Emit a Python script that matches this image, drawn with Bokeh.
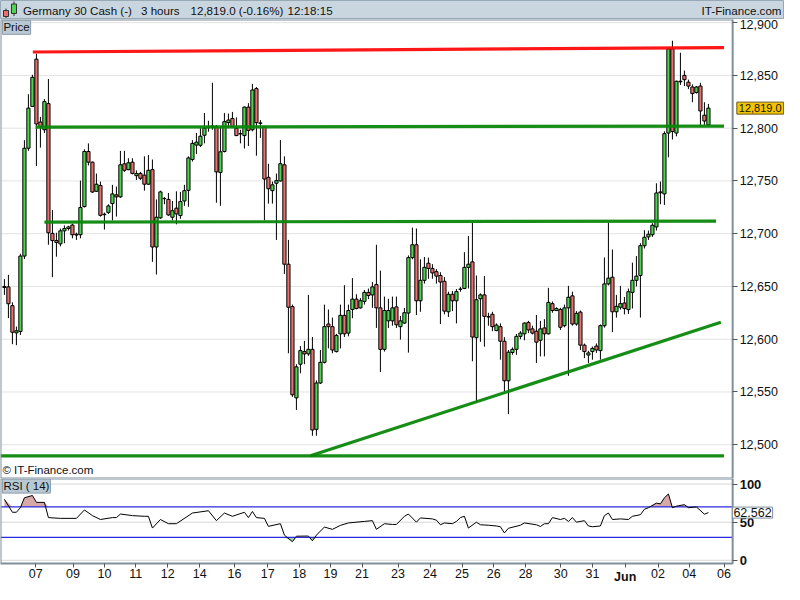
import numpy as np
from bokeh.plotting import figure
from bokeh.layouts import column
from bokeh.models import (Range1d, FixedTicker, NumeralTickFormatter, Label,
                          ColumnDataSource, LinearAxis)
from bokeh.embed import file_html
from bokeh.resources import INLINE

FONT = "Liberation Sans"

# ---------------- data ----------------
title_parts = ["Germany 30 Cash (-)", "3 hours", "12,819.0 (-0.16%)", "12:18:15"]
brand = "IT-Finance.com"
last_price = 12819.0
last_price_text = "12,819.0"
last_rsi = 62.562
last_rsi_text = "62.562"

opens = [12650, 12649.6, 12631.8, 12606, 12607.3, 12678.8, 12781, 12820.6, 12865.4, 12805.8,
         12798.5, 12823.3, 12700.3, 12693.5, 12690.4, 12702.7, 12704.9, 12708.2, 12699.5, 12699,
         12725.7, 12777.9, 12767.8, 12740.2, 12745.7, 12718, 12720.2, 12728.5, 12736.8, 12734.9,
         12766.2, 12760.7, 12767.8, 12755, 12757.1, 12755.5, 12746.9, 12760.7, 12687.4, 12715,
         12733.4, 12732.5, 12715.6, 12724.2, 12717.2, 12731, 12741.1, 12770.3, 12784, 12783.8,
         12793.3, 12800.5, 12802, 12801.6, 12758, 12777.9, 12805.3, 12809.2, 12800, 12794.8,
         12793, 12820, 12798.5, 12837.5, 12805, 12801.6, 12753.4, 12740.8, 12747.8, 12750,
         12765.3, 12671.1, 12630.9, 12544.4, 12576.3, 12588.3, 12586.1, 12590.4, 12514.6, 12558.5,
         12578.1, 12614.4, 12611.9, 12588.3, 12605.1, 12622.6, 12605.8, 12628.2, 12638, 12629.7,
         12635.8, 12644.4, 12642, 12651.8, 12629.7, 12590.4, 12617.4, 12617.4, 12630.6, 12611.9,
         12615.3, 12624.8, 12677.3, 12689.5, 12636.4, 12655.8, 12672, 12667.1, 12664, 12660.4,
         12654.9, 12626, 12642.6, 12636.4, 12647.5, 12648.1, 12668.1, 12673.3, 12601.5, 12638.3,
         12642, 12621.5, 12623.6, 12608.2, 12611.9, 12598.1, 12560.6, 12587.4, 12590.4, 12602.7,
         12605.1, 12615.9, 12609.8, 12607.6, 12599, 12610.7, 12605.1, 12633.7, 12627.2, 12628.2,
         12612.8, 12629.7, 12641.1, 12614.4, 12625.7, 12594.4, 12585, 12588.3, 12593.5, 12589.2,
         12612.8, 12652.4, 12658.8, 12626, 12630.3, 12634.3, 12628.1, 12644.4, 12655.8, 12660.4,
         12688.6, 12697, 12699, 12706.4, 12738.8, 12737.7, 12795.4, 12875.2, 12795.4, 12844.5,
         12850, 12843.6, 12839, 12833.8, 12839.9, 12812.3, 12803.1]
highs = [12657, 12661, 12635, 12612, 12681, 12788.6, 12832.2, 12850.6, 12870.6, 12810.7,
         12827.6, 12846.6, 12722.4, 12700.9, 12704.9, 12707.9, 12707.5, 12709.5, 12701, 12750.3,
         12780, 12785.6, 12768.4, 12757, 12749.4, 12720, 12727.9, 12746.3, 12744.7, 12778.5,
         12778.5, 12771.5, 12771.5, 12760, 12758.6, 12773.3, 12774.5, 12770.3, 12732.5, 12740.8,
         12734.7, 12738.6, 12731, 12740.2, 12739.6, 12746.3, 12773.3, 12788.7, 12795.4, 12800,
         12814.4, 12807, 12843, 12803, 12800.9, 12814.4, 12813.8, 12815.4, 12810.2, 12798.5,
         12820.5, 12823.7, 12842, 12839, 12807.7, 12802.2, 12766.3, 12749.4, 12757, 12788.7,
         12773.3, 12694.1, 12632.8, 12576.3, 12593.5, 12598.4, 12642, 12602.1, 12561, 12589.8,
         12632.8, 12628.2, 12620.5, 12605.1, 12632.8, 12651.2, 12632.8, 12657.9, 12642.6, 12639,
         12646.6, 12648, 12654.2, 12689.5, 12665, 12640.4, 12638.3, 12640.4, 12640.4, 12622,
         12629.7, 12679.4, 12705.8, 12704.9, 12675.7, 12677.9, 12677.3, 12671.1, 12666.5, 12663.5,
         12658.9, 12645.1, 12645.7, 12647.5, 12649.6, 12682.5, 12697.8, 12711, 12660.4, 12643.5,
         12659.8, 12625, 12626, 12615, 12615, 12602, 12589.8, 12592.3, 12605, 12607.6,
         12615.9, 12617.4, 12612.8, 12622.9, 12617.4, 12619, 12648.7, 12635.8, 12630.3, 12629.7,
         12632.8, 12650.6, 12645.1, 12626.6, 12627.2, 12595.9, 12589, 12593, 12596, 12614,
         12677.5, 12710.5, 12685, 12642, 12650.5, 12640, 12648, 12672.6, 12678.8, 12691,
         12703.3, 12703, 12710, 12747.8, 12749.4, 12797, 12876, 12882.9, 12845, 12871.5,
         12854.6, 12846, 12841.5, 12840, 12843, 12824.6, 12823]
lows = [12642, 12620, 12595.3, 12594.4, 12604, 12676, 12778.5, 12820, 12764.1, 12781.6,
        12795.4, 12689.5, 12658.8, 12678.2, 12688, 12691, 12703, 12695.6, 12694.1, 12695.6,
        12724.8, 12764.7, 12738.6, 12739.5, 12716.2, 12703.9, 12718.7, 12712.5, 12716.2, 12734,
        12758.6, 12760.1, 12756.2, 12750.9, 12750.9, 12740.8, 12746.3, 12673.3, 12661.3, 12714.1,
        12727.9, 12716.9, 12712.6, 12708.9, 12714.1, 12726.4, 12725.5, 12768.4, 12775.5, 12782.2,
        12785.6, 12796.6, 12798.5, 12729.4, 12726.4, 12777, 12800, 12800, 12792.4, 12785.6,
        12780.7, 12783.1, 12797, 12773.9, 12790.8, 12712.6, 12728.5, 12728.5, 12694.1, 12749.4,
        12661.9, 12586.7, 12545.3, 12533, 12567.7, 12576.3, 12584.3, 12508.5, 12508.5, 12557.6,
        12577, 12591.3, 12586.7, 12587.4, 12591.3, 12602.1, 12602.7, 12619.9, 12628.2, 12629,
        12632.8, 12638, 12629.7, 12610.7, 12568.9, 12588.3, 12610.7, 12612.8, 12610.7, 12599.6,
        12614.4, 12587.3, 12675.7, 12622.9, 12626, 12652.7, 12657.3, 12657.3, 12652.7, 12614.4,
        12623.6, 12621.1, 12626.6, 12615, 12645, 12647.5, 12648.1, 12579.1, 12540.7, 12597.5,
        12592.9, 12612.8, 12607.6, 12607.6, 12580.6, 12550.5, 12529, 12585.2, 12585.2, 12600,
        12599, 12605.8, 12604.5, 12577.5, 12583.7, 12583.7, 12604.5, 12625.1, 12626.6, 12608.8,
        12611.3, 12565.3, 12612.8, 12612.8, 12589.8, 12582.1, 12577.5, 12580.6, 12587, 12580.6,
        12611, 12651, 12606.7, 12620.5, 12628, 12623.5, 12624, 12629.1, 12650, 12620.5,
        12686, 12694, 12697, 12703, 12727.9, 12727.3, 12772.4, 12789.3, 12792.3, 12841,
        12839.9, 12837, 12824.6, 12832.8, 12803.1, 12803.1, 12803.1]
closes = [12649, 12633.6, 12606.6, 12608, 12678.8, 12781, 12819, 12848.2, 12804, 12801.5,
          12825.2, 12700.9, 12693.5, 12691.7, 12702.7, 12704.9, 12706.4, 12699, 12698.7, 12724.8,
          12777.9, 12767.8, 12739.5, 12746.9, 12717.4, 12718.5, 12726.3, 12737.7, 12734.9, 12765.3,
          12760.1, 12767.2, 12757.1, 12757, 12752.5, 12746.9, 12760.1, 12687.4, 12715.6, 12739.6,
          12733.2, 12717.8, 12721.8, 12718.7, 12730.4, 12740.8, 12771.8, 12785.6, 12786.8, 12792.4,
          12800, 12800.8, 12801, 12758.6, 12777.6, 12806.2, 12807.7, 12801.6, 12793, 12794.6,
          12820, 12797.9, 12836.2, 12805.2, 12804.6, 12751.8, 12742.6, 12746.3, 12750.3, 12766.3,
          12671.1, 12630.3, 12547.4, 12573.8, 12589.2, 12586.1, 12590.4, 12514, 12558.5, 12578.1,
          12611.9, 12611.9, 12589.8, 12603.6, 12622.6, 12605.1, 12627.2, 12638, 12629.1, 12636.5,
          12644.4, 12641.4, 12649.6, 12629.7, 12590.4, 12627.2, 12627.2, 12629.7, 12613.7, 12617.4,
          12625.1, 12677.3, 12689.5, 12636.4, 12655.8, 12668.1, 12667.1, 12662.8, 12659.8, 12654.2,
          12626.6, 12642.6, 12636.4, 12645.1, 12647.3, 12668.1, 12671.1, 12602.1, 12637.4, 12642,
          12621.7, 12621, 12611.9, 12613.4, 12598.1, 12560.6, 12587.7, 12590.4, 12602.7, 12605.8,
          12615.3, 12608.8, 12605.8, 12597.2, 12609.8, 12605.1, 12634.9, 12627.2, 12629.1, 12611.3,
          12629.7, 12639.8, 12614.4, 12624.5, 12594.4, 12588.3, 12587, 12591.3, 12589.8, 12612.8,
          12652.4, 12657.9, 12626, 12631.2, 12633.7, 12629.1, 12645, 12655.8, 12659.8, 12688.6,
          12696.6, 12699.5, 12708, 12738.6, 12739.6, 12794.8, 12875.2, 12796.9, 12844.5, 12844,
          12846, 12839.9, 12832.8, 12839, 12816.3, 12806.8, 12819]

# drawn support / resistance lines (candle index, price)
level_x0 = [7.1, 7.8, 10.0, -0.98, 76.5]
level_x1 = [179.9, 179.9, 177.9, 179.9, 179.1]
level_y0 = [12872.2, 12801.0, 12711.0, 12489.5, 12489.5]
level_y1 = [12876.4, 12802.0, 12712.0, 12489.5, 12616.0]
level_kind = ["resistance", "support", "support", "support", "support"]

price_ticks = [12500, 12550, 12600, 12650, 12700, 12750, 12800, 12850, 12900]

rsi_idx = [0, 2, 3, 4, 5, 7, 8, 10, 11, 14, 18, 20, 22, 24, 27, 28, 29, 32, 35, 36,
           37, 39, 41, 43, 47, 51, 53, 55, 57, 60, 61, 62, 63, 65, 66, 69, 70, 72, 73, 76,
           77, 78, 80, 82, 84, 86, 90, 92, 93, 95, 97, 98, 100, 101, 103, 104, 107, 108, 109, 110,
           112, 113, 114, 115, 116, 118, 119, 121, 123, 124, 125, 126, 129, 130, 133, 134, 135, 136, 137, 139,
           140, 141, 142, 143, 145, 146, 147, 149, 150, 151, 152, 154, 156, 157, 159, 160, 161, 163, 164, 165,
           166, 167, 168, 170, 171, 173, 175, 176]
rsi_val = [80, 63, 63, 69, 82, 85, 76, 76, 56, 55, 55, 66, 58.6, 53.5, 56, 56, 60.7, 58.6, 57.7, 57.7,
           42.3, 53.5, 48, 48, 62, 65, 52, 62, 57.7, 63, 56, 64, 56, 55, 44.5, 48, 33, 24.4, 31.6, 31.8,
           25.6, 33, 43.6, 40.6, 45.8, 49, 51, 52, 40.6, 48, 47, 47, 57.7, 60.7, 50, 55.6, 54.3, 52.6, 46.6, 49,
           48, 51, 56, 57.7, 42.3, 50, 46.6, 46, 45, 44, 35.9, 42, 46, 49, 46.6, 44.3, 48, 48, 56, 53.5,
           55, 51, 56, 50, 52, 45, 44, 45, 58.6, 62, 53.5, 54.3, 53.5, 57.7, 59.8, 67, 69, 75, 74, 82,
           87, 69, 71, 73, 69, 70, 60.5, 62.562]
rsi_levels = [30, 70]
rsi_ticks = [0, 50, 100]

date_pos = [7.85, 17.15, 25.0, 32.85, 40.85, 48.85, 57.5, 65.85, 73.7, 81.5, 89.4,
            98.4, 106.4, 114.4, 122.35, 130.3, 139.1, 147.0, 155.2, 163.4, 171.2, 179.9]
date_labels = ["07", "09", "10", "11", "12", "14", "16", "17", "18", "19", "21",
               "23", "24", "25", "26", "28", "30", "31", "Jun", "02", "04", "06"]
bold_labels = ["Jun"]

# ---------------- style / layout ----------------
W = 784
GREEN = "#50d350"
RED = "#e8736e"
AXIS = "#7f8f9d"
GRID = "#e3e3e3"
HDR_BG = "#c9d6df"
TAG_BG = "#b9c9d4"
TXT = "#111111"

X0, AX_X, X1 = -0.98, 182.06, 195.02      # chart area ends at the axis line (AX_X)
P0, P1 = 12468, 12903
R0, R1, RB = -4.2, 107.3, -31.75           # RB: room under the RSI panel for the date labels

xr = Range1d(X0, X1)

# ---------------- header ----------------
hdr = figure(width=W, height=19, x_range=Range1d(0, W), y_range=Range1d(0, 19),
             x_axis_location=None, y_axis_location=None, toolbar_location=None,
             output_backend="svg", min_border=0)
hdr.grid.visible = False
hdr.background_fill_color = HDR_BG
hdr.border_fill_color = HDR_BG
hdr.outline_line_color = "#98a9b6"
hdr.segment(x0=[5.5, 13.5], y0=[1.5, 3.5], x1=[5.5, 13.5], y1=[11, 18], line_color="#333333", line_width=1)
hdr.quad(left=[3, 11], right=[8, 16], bottom=[3, 6], top=[9, 15.5],
         fill_color=[RED, GREEN], line_color="#333333", line_width=1)
for txt, xpos in zip(title_parts, [22.5, 140.5, 190.0, 287.0]):
    hdr.add_layout(Label(x=xpos, y=9.5, text=txt, text_baseline="middle",
                         text_font=FONT, text_font_size="11.6px", text_color=TXT))
hdr.add_layout(Label(x=W - 3, y=9.5, text=brand, text_align="right", text_baseline="middle",
                     text_font=FONT, text_font_size="11.6px", text_color=TXT))

# ---------------- price panel ----------------
p = figure(width=W, height=459, x_range=xr, y_range=Range1d(P0, P1),
           x_axis_location=None, y_axis_location=None, toolbar_location=None,
           output_backend="svg", min_border=0)
p.grid.visible = False
p.outline_line_color = None

p.segment(x0=[X0] * len(price_ticks), x1=[AX_X] * len(price_ticks), y0=price_ticks, y1=price_ticks,
          line_color=GRID, line_width=1)

o = np.array(opens)
c = np.array(closes)
src = ColumnDataSource(dict(
    x=np.arange(len(closes)), top=np.maximum(o, c), bottom=np.minimum(o, c),
    high=np.array(highs), low=np.array(lows),
    color=np.where(c >= o, GREEN, RED)))
p.segment(x0="x", y0="low", x1="x", y1="high", source=src, line_color="black", line_width=1)
p.vbar(x="x", width=0.8, top="top", bottom="bottom", source=src,
       fill_color="color", line_color="black", line_width=1)

lsrc = ColumnDataSource(dict(x0=level_x0, x1=level_x1, y0=level_y0, y1=level_y1,
                             color=["#ff0a0a" if k == "resistance" else "#0a870a" for k in level_kind]))
p.segment(x0="x0", y0="y0", x1="x1", y1="y1", source=lsrc, line_color="color",
          line_width=3.2, line_alpha=0.95)

# panel frame
p.quad(left=[X0], right=[AX_X], bottom=[P0], top=[P1], fill_color=None,
       line_color=AXIS, line_width=2)

pax = LinearAxis(ticker=FixedTicker(ticks=price_ticks), formatter=NumeralTickFormatter(format="0,0"),
                 fixed_location=AX_X, bounds=(P0, P1))
pax.major_label_text_font = FONT
pax.major_label_text_font_size = "12.5px"
pax.major_label_text_color = TXT
pax.major_tick_out = 5
pax.major_tick_in = 0
pax.minor_tick_out = 0
pax.minor_tick_in = 0
pax.major_label_standoff = 2
pax.axis_line_color = AXIS
pax.major_tick_line_color = "#555555"
p.add_layout(pax, "right")

p.add_layout(Label(x=-0.5, y=P1 - 0.8, text="Price", text_baseline="top",
                   text_font=FONT, text_font_size="11.5px", text_color=TXT,
                   background_fill_color=TAG_BG, border_line_color="#8c9cab", padding=1))
p.add_layout(Label(x=-0.5, y=12476, text="\u00a9 IT-Finance.com", text_baseline="middle",
                   text_font=FONT, text_font_size="11.5px", text_color=TXT))
p.add_layout(Label(x=183.1, y=last_price, text=last_price_text, text_baseline="middle",
                   text_font=FONT, text_font_size="11px", text_color=TXT,
                   background_fill_color="#f5c400", border_line_color="#6a5a20", padding=2))

# ---------------- RSI panel ----------------
r = figure(width=W, height=106, x_range=xr, y_range=Range1d(RB, R1),
           x_axis_location=None, y_axis_location=None, toolbar_location=None,
           output_backend="svg", min_border=0)
r.grid.visible = False
r.outline_line_color = None

r.segment(x0=[X0] * len(rsi_ticks), x1=[AX_X] * len(rsi_ticks), y0=rsi_ticks, y1=rsi_ticks,
          line_color="#d8d8d8", line_width=1)

rv = np.array(rsi_val, dtype=float)


def near(mask):
    m = mask.copy()
    m[1:] |= mask[:-1]
    m[:-1] |= mask[1:]
    return m


hi = near(rv > rsi_levels[1])
lo = near(rv < rsi_levels[0])
r.varea(x=rsi_idx, y1=np.where(hi, rsi_levels[1], np.nan),
        y2=np.where(hi, np.maximum(rv, rsi_levels[1]), np.nan), fill_color="#d6a8a8")
r.varea(x=rsi_idx, y1=np.where(lo, np.minimum(rv, rsi_levels[0]), np.nan),
        y2=np.where(lo, rsi_levels[0], np.nan), fill_color="#a8d6a8")
r.segment(x0=[X0] * len(rsi_levels), x1=[AX_X] * len(rsi_levels), y0=rsi_levels, y1=rsi_levels,
          line_color="#2a2ae0", line_width=1.2)
r.line(x=rsi_idx, y=rsi_val, line_color="black", line_width=1)

r.quad(left=[X0], right=[AX_X], bottom=[R0], top=[R1], fill_color=None,
       line_color=AXIS, line_width=2)

rax = LinearAxis(ticker=FixedTicker(ticks=rsi_ticks), fixed_location=AX_X, bounds=(R0, R1))
rax.major_label_text_font = FONT
rax.major_label_text_font_size = "13px"
rax.major_label_text_font_style = "bold"
rax.major_label_text_color = TXT
rax.major_tick_out = 5
rax.major_tick_in = 0
rax.minor_tick_out = 0
rax.minor_tick_in = 0
rax.major_label_standoff = 2
rax.axis_line_color = AXIS
rax.major_tick_line_color = "#555555"
r.add_layout(rax, "right")

xax = LinearAxis(ticker=FixedTicker(ticks=date_pos), fixed_location=R0, bounds=(X0, AX_X))
xax.major_label_overrides = {pos: ("" if lab in bold_labels else lab)
                             for pos, lab in zip(date_pos, date_labels)}
xax.major_label_text_font = FONT
xax.major_label_text_font_size = "12.5px"
xax.major_label_text_color = TXT
xax.major_tick_out = 4
xax.major_tick_in = 0
xax.minor_tick_out = 0
xax.minor_tick_in = 0
xax.major_label_standoff = 2
xax.axis_line_color = AXIS
xax.major_tick_line_color = "#555555"
r.add_layout(xax, "below")
for pos, lab in zip(date_pos, date_labels):
    if lab in bold_labels:
        r.add_layout(Label(x=pos, y=-21.5, text=lab, text_align="center", text_baseline="middle",
                           text_font=FONT, text_font_size="12.5px", text_font_style="bold",
                           text_color=TXT))

r.add_layout(Label(x=-0.5, y=R1 - 0.8, text="RSI ( 14)", text_baseline="top",
                   text_font=FONT, text_font_size="11.5px", text_color=TXT,
                   background_fill_color=TAG_BG, border_line_color="#8c9cab", padding=1))
r.add_layout(Label(x=182.0, y=last_rsi, text=last_rsi_text, text_baseline="middle",
                   text_font=FONT, text_font_size="12.5px", text_color=TXT,
                   background_fill_color="white", border_line_color="#7f8f9d", padding=1))

layout = column(hdr, p, r, spacing=0)
open("out.html", "w").write(file_html(layout, INLINE))
